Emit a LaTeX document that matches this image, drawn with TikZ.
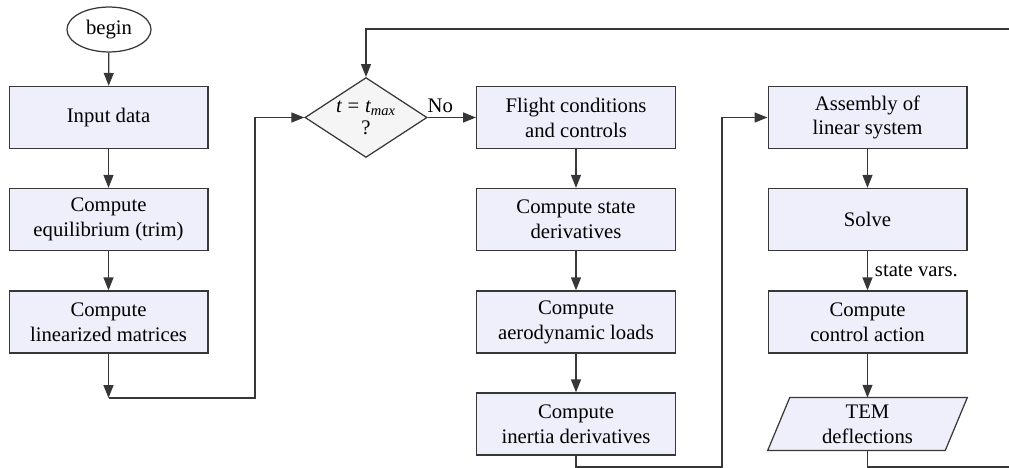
\documentclass[tikz,border=0pt]{standalone}
\usepackage{fontspec}
\setmainfont{Liberation Serif}
\usetikzlibrary{shapes.geometric,arrows.meta,calc}
\definecolor{boxfill}{RGB}{239,239,252}
\definecolor{decfill}{RGB}{245,245,245}
\definecolor{linec}{RGB}{55,55,55}
\begin{document}
\begin{tikzpicture}[x=0.483pt,y=-0.483pt,
  stepbox/.style={draw=linec, line width=0.6pt, fill=boxfill, minimum width=96pt, minimum height=30pt, align=center, inner sep=2pt},
  arr/.style={draw=linec, line width=0.6pt, -{Triangle[length=6.2pt,width=4.8pt]}},
  ln/.style={draw=linec, line width=0.6pt},
  lbl/.style={inner sep=0pt}]
\useasboundingbox (0,0) rectangle (1009,468);
\clip (0,0) rectangle (1009,468);
% column 1
\node[ellipse, draw=linec, line width=0.6pt, fill=white, minimum width=40.6pt, minimum height=21.7pt, inner sep=0pt] (begin) at (109,29.5) {begin};
\node[stepbox] (input) at (108.5,117.5) {Input data};
\node[stepbox] (equil) at (108.5,219.5) {Compute\\equilibrium (trim)};
\node[stepbox] (lin) at (108.5,322) {Compute\\linearized matrices};
% decision
\node[diamond, draw=linec, line width=0.6pt, fill=decfill, minimum width=59pt, minimum height=38.6pt, inner sep=0pt] (dec) at (366,117.5) {};
\node[lbl, align=center] (dectext) at (366,118) {{\itshape t}\hspace{2.8pt}=\hspace{2.8pt}{\itshape t}\textsubscript{\itshape max}\\[-1.5pt]?};
% column 3
\node[stepbox] (flight) at (576,117.5) {Flight conditions\\and controls};
\node[stepbox] (state) at (576,219.5) {Compute state\\derivatives};
\node[stepbox] (aero) at (576,322) {Compute\\aerodynamic loads};
\node[stepbox] (inertia) at (576,424) {Compute\\inertia derivatives};
% column 4
\node[stepbox] (asm) at (867.5,117.5) {Assembly of\\linear system};
\node[stepbox] (solve) at (867.5,219.5) {Solve};
\node[stepbox] (ctrl) at (867.5,322) {Compute\\control action};
\node[minimum width=96pt, minimum height=25.1pt, inner sep=0pt, align=center] (tem) at (867.5,424) {};
\draw[ln, fill=boxfill] (tem.south west) -- ($(tem.south east)+(-22,0)$) -- (tem.north east) -- ($(tem.north west)+(22,0)$) -- cycle;
\node[lbl, align=center] (temtext) at (tem) {TEM\\deflections};
% coordinates
\coordinate (c1) at (108.5,398);
\coordinate (c2) at (255,398);
\coordinate (c3) at (576,467);
\coordinate (c4) at (722,467);
\coordinate (c5) at (867.5,467);
\coordinate (c6) at (1040,467);
\coordinate (c7) at (1040,29);
\coordinate (c8) at (366,29);
% connectors
\draw[arr] (begin) -- (input);
\draw[arr] (input) -- (equil);
\draw[arr] (equil) -- (lin);
\draw[arr] (lin) -- (c1);
\draw[arr] (c1) -- (c2) |- (dec.west);
\draw[arr] (dec.east) -- node[pos=0.26, above, inner sep=2pt] (no) {No} (flight.west);
\draw[arr] (flight) -- (state);
\draw[arr] (state) -- (aero);
\draw[arr] (aero) -- (inertia);
\draw[arr] (inertia.south) -- (c3) -- (c4) |- (asm.west);
\draw[arr] (asm) -- (solve);
\draw[arr] (solve) -- node[right, inner sep=3.3pt] (sv) {state vars.} (ctrl);
\draw[arr] (ctrl) -- (tem.north);
\draw[arr] (tem.south) -- (c5) -- (c6) -- (c7) -- (c8) -- (dec.north);
\end{tikzpicture}
\end{document}
